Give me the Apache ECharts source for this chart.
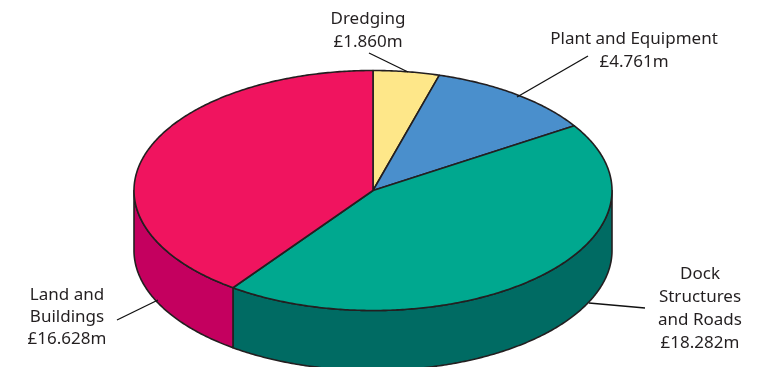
<!DOCTYPE html>
<html>
<head>
<meta charset="utf-8">
<style>html,body{margin:0;padding:0;background:#fff}#c{width:760px;height:367px}</style>
<script src="https://cdn.jsdelivr.net/npm/echarts@6/dist/echarts.min.js"></script>
</head>
<body>
<div id="c"></div>
<script>
var categories = ['Dredging', 'Plant and Equipment', 'Dock Structures and Roads', 'Land and Buildings'];
var values = [1.860, 4.761, 18.282, 16.628];
var labelLines = [
  ['Dredging', '£1.860m'],
  ['Plant and Equipment', '£4.761m'],
  ['Dock', 'Structures', 'and Roads', '£18.282m'],
  ['Land and', 'Buildings', '£16.628m']
];
var topColors = ['#FEE789', '#4A8FCC', '#00A88F', '#F0145F'];
var sideColors = ['#E0C860', '#2F6FA8', '#006B63', '#C4005F'];

var CX = 373, CY = 190.5, RX = 239, RY = 120, DEPTH = 60, INK = '#231F20';
var total = values.reduce(function (a, b) { return a + b; }, 0);

function pt(a, dy) {
  return [CX + RX * Math.sin(a), CY - RY * Math.cos(a) + (dy || 0)];
}
function arc(a0, a1, dy) {
  var n = Math.max(2, Math.ceil((a1 - a0) / 0.01)), out = [];
  for (var i = 0; i <= n; i++) out.push(pt(a0 + (a1 - a0) * i / n, dy));
  return out;
}
var cum = [0];
values.forEach(function (v) { cum.push(cum[cum.length - 1] + v); });

function renderItem(params, api) {
  var i = params.dataIndex;
  var a0 = 2 * Math.PI * cum[i] / total, a1 = 2 * Math.PI * cum[i + 1] / total;
  var children = [];
  var w0 = Math.max(a0, Math.PI / 2), w1 = Math.min(a1, 1.5 * Math.PI);
  if (w1 > w0) {
    children.push({
      type: 'polygon',
      shape: { points: arc(w0, w1, 0).concat(arc(w0, w1, DEPTH).reverse()) },
      style: { fill: sideColors[i], stroke: INK, lineWidth: 1.6, lineJoin: 'round' }
    });
  }
  children.push({
    type: 'polygon',
    shape: { points: [[CX, CY]].concat(arc(a0, a1, 0)) },
    style: { fill: topColors[i], stroke: INK, lineWidth: 1.6, lineJoin: 'round' }
  });
  return { type: 'group', children: children };
}

var labelAnchors = [
  [368, 8],
  [634, 28],
  [700, 262.5],
  [67, 284]
];
var leaders = [
  [369, 53, 408, 72],
  [588, 56, 517, 97],
  [645, 308, 589, 303],
  [117, 320, 158, 300]
];
var LH = [23, 23, 23, 22];

var graphics = [];
labelLines.forEach(function (lines, i) {
  graphics.push({
    type: 'text', silent: true, x: labelAnchors[i][0], y: labelAnchors[i][1], z: 10,
    style: {
      text: lines.join('\n'), align: 'center', verticalAlign: 'top',
      font: '17px "Noto Sans"', lineHeight: LH[i], fill: '#231F20'
    }
  });
  var l = leaders[i];
  graphics.push({
    type: 'line', silent: true, z: 10,
    shape: { x1: l[0], y1: l[1], x2: l[2], y2: l[3] },
    style: { stroke: '#111', lineWidth: 1.3 }
  });
});

var chart = echarts.init(document.getElementById('c'), null, { renderer: 'canvas' });
chart.setOption({
  animation: false,
  backgroundColor: '#fff',
  series: [{
    type: 'custom',
    coordinateSystem: 'none',
    silent: true,
    renderItem: renderItem,
    data: categories.map(function (c, i) { return { name: c, value: values[i] }; })
  }],
  graphic: graphics
});
</script>
</body>
</html>
